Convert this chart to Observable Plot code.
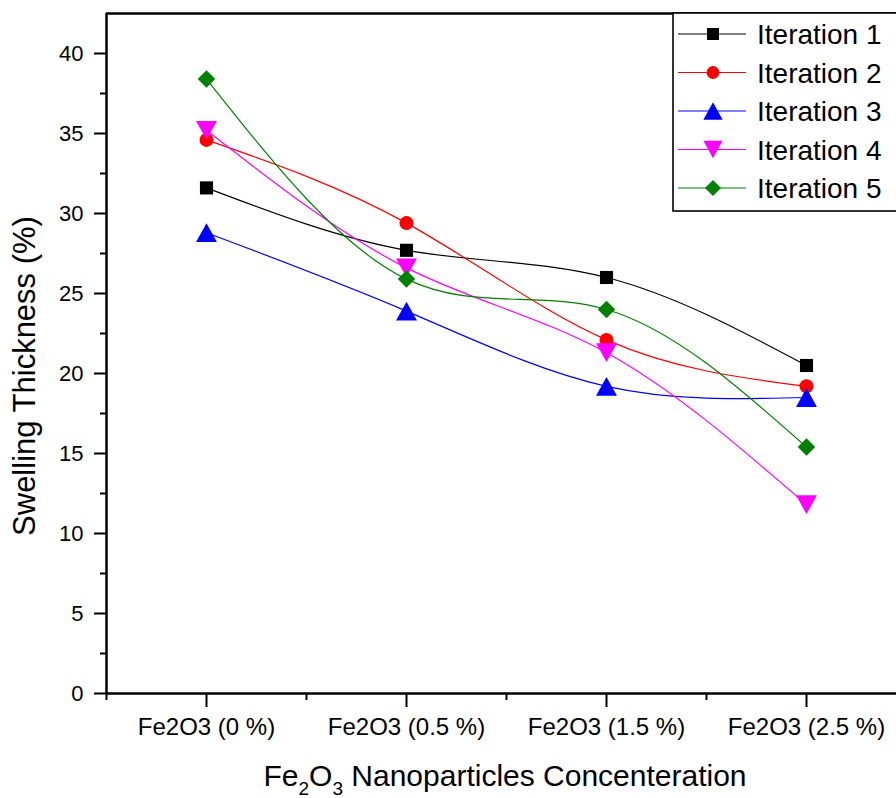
<!DOCTYPE html>
<html><head><meta charset="utf-8">
<script src="https://cdn.jsdelivr.net/npm/d3@7"></script>
<script src="https://cdn.jsdelivr.net/npm/@observablehq/plot@0.6"></script>
<style>
body{margin:0;background:#fff;}
#chart{width:896px;height:798px;overflow:hidden;}
svg{overflow:visible}
</style>
</head><body><div id="chart"></div>
<script>
// ---- data ----
const categories = ["Fe2O3 (0 %)", "Fe2O3 (0.5 %)", "Fe2O3 (1.5 %)", "Fe2O3 (2.5 %)"];
const seriesNames = ["Iteration 1", "Iteration 2", "Iteration 3", "Iteration 4", "Iteration 5"];
const iteration1 = [31.6, 27.7, 26.0, 20.5];
const iteration2 = [34.6, 29.4, 22.1, 19.2];
const iteration3 = [28.8, 23.9, 19.2, 18.5];
const iteration4 = [35.2, 26.6, 21.3, 11.8];
const iteration5 = [38.4, 25.9, 24.0, 15.4];
const yTicks = [0, 5, 10, 15, 20, 25, 30, 35, 40];
const yMinorTicks = [2.5, 7.5, 12.5, 17.5, 22.5, 27.5, 32.5, 37.5];
const seriesColors = ["#000000", "#ff0000", "#0000ff", "#ff00ff", "#008000"];

// ---- symbols (Origin style) ----
const sq3 = Math.sqrt(3);
const squareSym = {draw(c, size){ const s = Math.sqrt(size)/2; c.rect(-s,-s,2*s,2*s); }};
const circleSym = {draw(c, size){ const r = Math.sqrt(size/Math.PI); c.moveTo(r,0); c.arc(0,0,r,0,2*Math.PI); }};
const triUpSym = {draw(c, size){ const w = Math.sqrt(size*4/sq3)/2*1.05; const h = w*0.9; c.moveTo(0,-h); c.lineTo(w,h); c.lineTo(-w,h); c.closePath(); }};
const triDownSym = {draw(c, size){ const w = Math.sqrt(size*4/sq3)/2*1.05; const h = w*0.9; c.moveTo(0,h); c.lineTo(w,-h); c.lineTo(-w,-h); c.closePath(); }};
const diamondSym = {draw(c, size){ const d = Math.sqrt(size/2); c.moveTo(0,-d); c.lineTo(d,0); c.lineTo(0,d); c.lineTo(-d,0); c.closePath(); }};
const seriesSymbols = [squareSym, circleSym, triUpSym, triDownSym, diamondSym];
const seriesR = [7.4, 7.0, 7.4, 7.4, 7.0];

const seriesValues = [iteration1, iteration2, iteration3, iteration4, iteration5];
const rows = [];
seriesValues.forEach((vals, s) => vals.forEach((v, i) => rows.push({s, series: seriesNames[s], xi: i + 1, value: v})));

const W = 896, H = 798;
const marks = [];
seriesNames.forEach((name, s) => {
  const d = rows.filter(r => r.s === s);
  marks.push(Plot.line(d, {x: "xi", y: "value", stroke: seriesColors[s], strokeWidth: 1.2, curve: "natural"}));
  marks.push(Plot.dot(d, {x: "xi", y: "value", symbol: seriesSymbols[s], r: seriesR[s], fill: seriesColors[s], stroke: "none"}));
});

const chart = Plot.plot({
  width: W, height: H,
  marginLeft: 106, marginRight: 0, marginTop: 13, marginBottom: 105,
  style: {fontFamily: "'Liberation Sans', Arial, sans-serif", color: "#000", background: "#fff"},
  x: {type: "linear", domain: [0.5, 0.5 + (W - 106) / 200], axis: null},
  y: {domain: [0, 42.5], axis: null},
  marks: [
    ...marks,
    Plot.axisY(yTicks, {tickSize: 12, tickPadding: 11, strokeWidth: 2, fontSize: 22, label: null, tickFormat: d => String(d)}),
    Plot.axisY(yMinorTicks, {tickSize: 6, strokeWidth: 2, label: null, tickFormat: () => ""}),
    Plot.axisX([1, 2, 3, 4], {tickSize: 14, tickPadding: 10, strokeWidth: 2, fontSize: 24, label: null, tickFormat: d => categories[d - 1]}),
    Plot.axisX([0.5, 1.5, 2.5, 3.5], {tickSize: 7, strokeWidth: 2, label: null, tickFormat: () => ""}),
    Plot.ruleY([0], {strokeWidth: 2.5}),
    Plot.ruleY([42.5], {strokeWidth: 2.5}),
    Plot.ruleX([0.5], {strokeWidth: 2.5})
  ]
});

const svg = d3.select(chart);
const font = "'Liberation Sans', Arial, sans-serif";

// Legend
const lg = svg.append("g").attr("class", "legend");
lg.append("rect").attr("x", 673).attr("y", 13).attr("width", 240).attr("height", 198)
  .attr("fill", "#fff").attr("stroke", "#000").attr("stroke-width", 1.6);
const rowY = [34, 72.5, 111, 149.5, 188];
seriesNames.forEach((name, s) => {
  const y = rowY[s];
  lg.append("line").attr("x1", 678).attr("x2", 746).attr("y1", y).attr("y2", y)
    .attr("stroke", seriesColors[s]).attr("stroke-width", 1.2);
  const sz = Math.PI * (seriesR[s] - 0.6) ** 2;
  lg.append("path").attr("transform", `translate(713,${y})`)
    .attr("d", d3.symbol(seriesSymbols[s], sz)()).attr("fill", seriesColors[s]);
  lg.append("text").attr("x", 757).attr("y", y).attr("dy", "0.36em").attr("text-anchor", "start")
    .attr("font-family", font).attr("font-size", 28).attr("fill", "#000").text(name);
});

// Axis titles
const xt = svg.append("text").attr("x", 505).attr("y", 786).attr("text-anchor", "middle")
  .attr("font-family", font).attr("font-size", 30).attr("fill", "#000");
xt.append("tspan").text("Fe");
xt.append("tspan").attr("font-size", 19).attr("dy", 9).text("2");
xt.append("tspan").attr("dy", -9).text("O");
xt.append("tspan").attr("font-size", 19).attr("dy", 9).text("3");
xt.append("tspan").attr("dy", -9).text(" Nanoparticles Concenteration");

svg.append("text").attr("transform", "translate(24,376) rotate(-90)").attr("text-anchor", "middle")
  .attr("dy", "0.36em").attr("font-family", font).attr("font-size", 31).attr("fill", "#000")
  .text("Swelling Thickness (%)");

document.getElementById("chart").append(chart);
</script>
</body></html>
